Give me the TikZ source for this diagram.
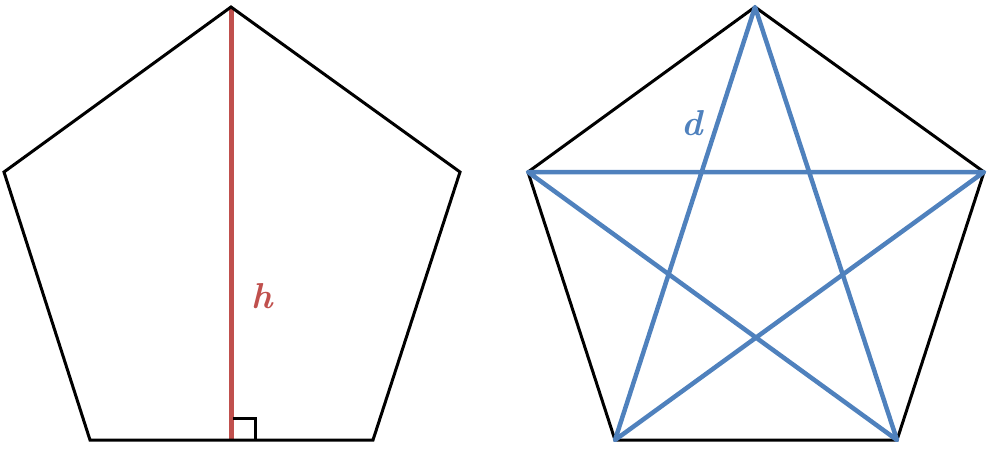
\documentclass[tikz,border=0pt]{standalone}
\begin{document}
\begin{tikzpicture}[x=1pt,y=-1pt,
  edge/.style={draw=black,line width=3pt,line join=miter},
  redline/.style={draw=hred,line width=5pt},
  blueline/.style={draw=dblue,line width=4.5pt,line join=round},
  lab/.style={font=\fontsize{36}{42}\selectfont\bfseries\itshape,inner sep=0pt}]
\definecolor{hred}{HTML}{C0504D}
\definecolor{dblue}{HTML}{4F81BD}
\useasboundingbox (0,0) rectangle (987,453);
% left pentagon
\coordinate (LA) at (231,7);
\coordinate (LB) at (460,172);
\coordinate (LC) at (373,440);
\coordinate (LD) at (90,440);
\coordinate (LE) at (4,172);
\coordinate (LF) at (231,440);
\draw[redline] (LA) -- (LF);
\draw[edge] (LA) -- (LB) -- (LC) -- (LD) -- (LE) -- cycle;
\draw[edge] (233,418) -- (255,418) -- (255,440);
\node[lab,text=hred] (h) at (262,296) {h};
% right pentagon
\coordinate (RA) at (755,7);
\coordinate (RB) at (984,172);
\coordinate (RC) at (897,440);
\coordinate (RD) at (615,440);
\coordinate (RE) at (528,172);
\draw[edge] (RA) -- (RB) -- (RC) -- (RD) -- (RE) -- cycle;
\draw[blueline] (RA) -- (RC) -- (RE) -- (RB) -- (RD) -- cycle;
\node[lab,text=dblue] (d) at (692,123) {d};
\end{tikzpicture}
\end{document}
